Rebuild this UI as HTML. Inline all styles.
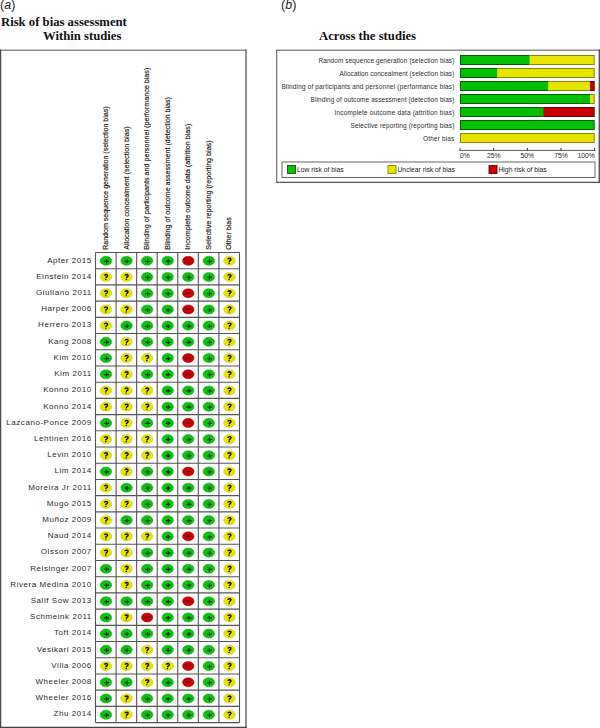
<!DOCTYPE html>
<html><head><meta charset="utf-8"><style>
html,body{margin:0;padding:0;background:#fff;width:600px;height:728px;overflow:hidden;position:relative}
.t{position:absolute;white-space:nowrap}
.ser{font-family:"Liberation Serif",serif;font-weight:bold;font-size:13.2px;color:#111;transform:scale(0.962,1);transform-origin:0 0}
.pl{font-family:"Liberation Sans",sans-serif;font-size:12.5px;color:#222}
.lab{position:absolute;right:508.2px;font-family:"Liberation Sans",sans-serif;font-size:8px;letter-spacing:0.55px;line-height:10px;color:#2a2a2a;white-space:nowrap}
svg{position:absolute;left:0;top:0}
</style></head><body>
<div class="t pl" style="left:0;top:-2px">(<i>a</i>)</div>
<div class="t ser" style="left:1px;top:13.9px">Risk of bias assessment</div>
<div class="t ser" style="left:42.7px;top:28.3px">Within studies</div>
<div class="t pl" style="left:281px;top:-2px">(<i>b</i>)</div>
<div class="t ser" style="left:319px;top:27.8px">Across the studies</div>
<svg width="600" height="728" viewBox="0 0 600 728">
<line x1="0" y1="50.2" x2="246.5" y2="50.2" stroke="#8c8c8c" stroke-width="1.6"/>
<line x1="0.6" y1="49.5" x2="0.6" y2="728" stroke="#4a4a4a" stroke-width="1.3"/>
<line x1="246" y1="49.5" x2="246" y2="728" stroke="#6a6a6a" stroke-width="1.5"/>
<line x1="0" y1="727.4" x2="246.7" y2="727.4" stroke="#444" stroke-width="1.3"/>
<line x1="95.50" y1="252.50" x2="95.50" y2="722.59" stroke="#555" stroke-width="1.1"/>
<line x1="116.07" y1="252.50" x2="116.07" y2="722.59" stroke="#555" stroke-width="1.1"/>
<line x1="136.64" y1="252.50" x2="136.64" y2="722.59" stroke="#555" stroke-width="1.1"/>
<line x1="157.21" y1="252.50" x2="157.21" y2="722.59" stroke="#555" stroke-width="1.1"/>
<line x1="177.78" y1="252.50" x2="177.78" y2="722.59" stroke="#555" stroke-width="1.1"/>
<line x1="198.35" y1="252.50" x2="198.35" y2="722.59" stroke="#555" stroke-width="1.1"/>
<line x1="218.92" y1="252.50" x2="218.92" y2="722.59" stroke="#555" stroke-width="1.1"/>
<line x1="239.49" y1="252.50" x2="239.49" y2="722.59" stroke="#555" stroke-width="1.1"/>
<line x1="95.50" y1="252.50" x2="239.49" y2="252.50" stroke="#555" stroke-width="1.1"/>
<line x1="95.50" y1="268.71" x2="239.49" y2="268.71" stroke="#555" stroke-width="1.1"/>
<line x1="95.50" y1="284.92" x2="239.49" y2="284.92" stroke="#555" stroke-width="1.1"/>
<line x1="95.50" y1="301.13" x2="239.49" y2="301.13" stroke="#555" stroke-width="1.1"/>
<line x1="95.50" y1="317.34" x2="239.49" y2="317.34" stroke="#555" stroke-width="1.1"/>
<line x1="95.50" y1="333.55" x2="239.49" y2="333.55" stroke="#555" stroke-width="1.1"/>
<line x1="95.50" y1="349.76" x2="239.49" y2="349.76" stroke="#555" stroke-width="1.1"/>
<line x1="95.50" y1="365.97" x2="239.49" y2="365.97" stroke="#555" stroke-width="1.1"/>
<line x1="95.50" y1="382.18" x2="239.49" y2="382.18" stroke="#555" stroke-width="1.1"/>
<line x1="95.50" y1="398.39" x2="239.49" y2="398.39" stroke="#555" stroke-width="1.1"/>
<line x1="95.50" y1="414.60" x2="239.49" y2="414.60" stroke="#555" stroke-width="1.1"/>
<line x1="95.50" y1="430.81" x2="239.49" y2="430.81" stroke="#555" stroke-width="1.1"/>
<line x1="95.50" y1="447.02" x2="239.49" y2="447.02" stroke="#555" stroke-width="1.1"/>
<line x1="95.50" y1="463.23" x2="239.49" y2="463.23" stroke="#555" stroke-width="1.1"/>
<line x1="95.50" y1="479.44" x2="239.49" y2="479.44" stroke="#555" stroke-width="1.1"/>
<line x1="95.50" y1="495.65" x2="239.49" y2="495.65" stroke="#555" stroke-width="1.1"/>
<line x1="95.50" y1="511.86" x2="239.49" y2="511.86" stroke="#555" stroke-width="1.1"/>
<line x1="95.50" y1="528.07" x2="239.49" y2="528.07" stroke="#555" stroke-width="1.1"/>
<line x1="95.50" y1="544.28" x2="239.49" y2="544.28" stroke="#555" stroke-width="1.1"/>
<line x1="95.50" y1="560.49" x2="239.49" y2="560.49" stroke="#555" stroke-width="1.1"/>
<line x1="95.50" y1="576.70" x2="239.49" y2="576.70" stroke="#555" stroke-width="1.1"/>
<line x1="95.50" y1="592.91" x2="239.49" y2="592.91" stroke="#555" stroke-width="1.1"/>
<line x1="95.50" y1="609.12" x2="239.49" y2="609.12" stroke="#555" stroke-width="1.1"/>
<line x1="95.50" y1="625.33" x2="239.49" y2="625.33" stroke="#555" stroke-width="1.1"/>
<line x1="95.50" y1="641.54" x2="239.49" y2="641.54" stroke="#555" stroke-width="1.1"/>
<line x1="95.50" y1="657.75" x2="239.49" y2="657.75" stroke="#555" stroke-width="1.1"/>
<line x1="95.50" y1="673.96" x2="239.49" y2="673.96" stroke="#555" stroke-width="1.1"/>
<line x1="95.50" y1="690.17" x2="239.49" y2="690.17" stroke="#555" stroke-width="1.1"/>
<line x1="95.50" y1="706.38" x2="239.49" y2="706.38" stroke="#555" stroke-width="1.1"/>
<line x1="95.50" y1="722.59" x2="239.49" y2="722.59" stroke="#555" stroke-width="1.1"/>
<ellipse cx="105.98" cy="260.81" rx="5.75" ry="4.55" fill="#08c408" stroke="#08a808" stroke-width="0.5"/>
<path d="M104.19 261.25h4.8M106.58 259.31v3.9" stroke="#021" stroke-width="1.25"/>
<ellipse cx="126.55" cy="260.81" rx="5.75" ry="4.55" fill="#08c408" stroke="#08a808" stroke-width="0.5"/>
<path d="M124.75 261.25h4.8M127.15 259.31v3.9" stroke="#021" stroke-width="1.25"/>
<ellipse cx="147.12" cy="260.81" rx="5.75" ry="4.55" fill="#08c408" stroke="#08a808" stroke-width="0.5"/>
<path d="M145.32 261.25h4.8M147.72 259.31v3.9" stroke="#021" stroke-width="1.25"/>
<ellipse cx="167.69" cy="260.81" rx="5.75" ry="4.55" fill="#08c408" stroke="#08a808" stroke-width="0.5"/>
<path d="M165.89 261.25h4.8M168.29 259.31v3.9" stroke="#021" stroke-width="1.25"/>
<ellipse cx="188.26" cy="260.81" rx="5.75" ry="4.55" fill="#cc0000" stroke="#b00000" stroke-width="0.5"/>
<path d="M186.16 260.61h4" stroke="#400" stroke-width="1.3"/>
<ellipse cx="208.83" cy="260.81" rx="5.75" ry="4.55" fill="#08c408" stroke="#08a808" stroke-width="0.5"/>
<path d="M207.03 261.25h4.8M209.43 259.31v3.9" stroke="#021" stroke-width="1.25"/>
<ellipse cx="229.41" cy="260.81" rx="5.75" ry="4.55" fill="#e6e500" stroke="#c8c600" stroke-width="0.5"/>
<path d="M227.81 259.41Q228.10 258.31 229.50 258.31Q231.21 258.41 230.91 259.70Q230.60 260.50 229.50 261.20L229.21 262.11M229.10 262.81v1.1" fill="none" stroke="#111" stroke-width="1.4"/>
<ellipse cx="105.98" cy="277.01" rx="5.75" ry="4.55" fill="#e6e500" stroke="#c8c600" stroke-width="0.5"/>
<path d="M104.39 275.62Q104.69 274.51 106.08 274.51Q107.78 274.62 107.48 275.91Q107.19 276.71 106.08 277.41L105.78 278.31M105.69 279.01v1.1" fill="none" stroke="#111" stroke-width="1.4"/>
<ellipse cx="126.55" cy="277.01" rx="5.75" ry="4.55" fill="#e6e500" stroke="#c8c600" stroke-width="0.5"/>
<path d="M124.95 275.62Q125.25 274.51 126.65 274.51Q128.35 274.62 128.06 275.91Q127.75 276.71 126.65 277.41L126.35 278.31M126.25 279.01v1.1" fill="none" stroke="#111" stroke-width="1.4"/>
<ellipse cx="147.12" cy="277.01" rx="5.75" ry="4.55" fill="#08c408" stroke="#08a808" stroke-width="0.5"/>
<path d="M145.32 277.46h4.8M147.72 275.51v3.9" stroke="#021" stroke-width="1.25"/>
<ellipse cx="167.69" cy="277.01" rx="5.75" ry="4.55" fill="#08c408" stroke="#08a808" stroke-width="0.5"/>
<path d="M165.89 277.46h4.8M168.29 275.51v3.9" stroke="#021" stroke-width="1.25"/>
<ellipse cx="188.26" cy="277.01" rx="5.75" ry="4.55" fill="#08c408" stroke="#08a808" stroke-width="0.5"/>
<path d="M186.46 277.46h4.8M188.86 275.51v3.9" stroke="#021" stroke-width="1.25"/>
<ellipse cx="208.83" cy="277.01" rx="5.75" ry="4.55" fill="#08c408" stroke="#08a808" stroke-width="0.5"/>
<path d="M207.03 277.46h4.8M209.43 275.51v3.9" stroke="#021" stroke-width="1.25"/>
<ellipse cx="229.41" cy="277.01" rx="5.75" ry="4.55" fill="#e6e500" stroke="#c8c600" stroke-width="0.5"/>
<path d="M227.81 275.62Q228.10 274.51 229.50 274.51Q231.21 274.62 230.91 275.91Q230.60 276.71 229.50 277.41L229.21 278.31M229.10 279.01v1.1" fill="none" stroke="#111" stroke-width="1.4"/>
<ellipse cx="105.98" cy="293.23" rx="5.75" ry="4.55" fill="#e6e500" stroke="#c8c600" stroke-width="0.5"/>
<path d="M104.39 291.83Q104.69 290.73 106.08 290.73Q107.78 290.83 107.48 292.12Q107.19 292.93 106.08 293.62L105.78 294.53M105.69 295.23v1.1" fill="none" stroke="#111" stroke-width="1.4"/>
<ellipse cx="126.55" cy="293.23" rx="5.75" ry="4.55" fill="#e6e500" stroke="#c8c600" stroke-width="0.5"/>
<path d="M124.95 291.83Q125.25 290.73 126.65 290.73Q128.35 290.83 128.06 292.12Q127.75 292.93 126.65 293.62L126.35 294.53M126.25 295.23v1.1" fill="none" stroke="#111" stroke-width="1.4"/>
<ellipse cx="147.12" cy="293.23" rx="5.75" ry="4.55" fill="#08c408" stroke="#08a808" stroke-width="0.5"/>
<path d="M145.32 293.68h4.8M147.72 291.73v3.9" stroke="#021" stroke-width="1.25"/>
<ellipse cx="167.69" cy="293.23" rx="5.75" ry="4.55" fill="#08c408" stroke="#08a808" stroke-width="0.5"/>
<path d="M165.89 293.68h4.8M168.29 291.73v3.9" stroke="#021" stroke-width="1.25"/>
<ellipse cx="188.26" cy="293.23" rx="5.75" ry="4.55" fill="#cc0000" stroke="#b00000" stroke-width="0.5"/>
<path d="M186.16 293.03h4" stroke="#400" stroke-width="1.3"/>
<ellipse cx="208.83" cy="293.23" rx="5.75" ry="4.55" fill="#08c408" stroke="#08a808" stroke-width="0.5"/>
<path d="M207.03 293.68h4.8M209.43 291.73v3.9" stroke="#021" stroke-width="1.25"/>
<ellipse cx="229.41" cy="293.23" rx="5.75" ry="4.55" fill="#e6e500" stroke="#c8c600" stroke-width="0.5"/>
<path d="M227.81 291.83Q228.10 290.73 229.50 290.73Q231.21 290.83 230.91 292.12Q230.60 292.93 229.50 293.62L229.21 294.53M229.10 295.23v1.1" fill="none" stroke="#111" stroke-width="1.4"/>
<ellipse cx="105.98" cy="309.44" rx="5.75" ry="4.55" fill="#e6e500" stroke="#c8c600" stroke-width="0.5"/>
<path d="M104.39 308.04Q104.69 306.94 106.08 306.94Q107.78 307.04 107.48 308.33Q107.19 309.13 106.08 309.83L105.78 310.74M105.69 311.44v1.1" fill="none" stroke="#111" stroke-width="1.4"/>
<ellipse cx="126.55" cy="309.44" rx="5.75" ry="4.55" fill="#e6e500" stroke="#c8c600" stroke-width="0.5"/>
<path d="M124.95 308.04Q125.25 306.94 126.65 306.94Q128.35 307.04 128.06 308.33Q127.75 309.13 126.65 309.83L126.35 310.74M126.25 311.44v1.1" fill="none" stroke="#111" stroke-width="1.4"/>
<ellipse cx="147.12" cy="309.44" rx="5.75" ry="4.55" fill="#08c408" stroke="#08a808" stroke-width="0.5"/>
<path d="M145.32 309.88h4.8M147.72 307.94v3.9" stroke="#021" stroke-width="1.25"/>
<ellipse cx="167.69" cy="309.44" rx="5.75" ry="4.55" fill="#08c408" stroke="#08a808" stroke-width="0.5"/>
<path d="M165.89 309.88h4.8M168.29 307.94v3.9" stroke="#021" stroke-width="1.25"/>
<ellipse cx="188.26" cy="309.44" rx="5.75" ry="4.55" fill="#cc0000" stroke="#b00000" stroke-width="0.5"/>
<path d="M186.16 309.24h4" stroke="#400" stroke-width="1.3"/>
<ellipse cx="208.83" cy="309.44" rx="5.75" ry="4.55" fill="#08c408" stroke="#08a808" stroke-width="0.5"/>
<path d="M207.03 309.88h4.8M209.43 307.94v3.9" stroke="#021" stroke-width="1.25"/>
<ellipse cx="229.41" cy="309.44" rx="5.75" ry="4.55" fill="#e6e500" stroke="#c8c600" stroke-width="0.5"/>
<path d="M227.81 308.04Q228.10 306.94 229.50 306.94Q231.21 307.04 230.91 308.33Q230.60 309.13 229.50 309.83L229.21 310.74M229.10 311.44v1.1" fill="none" stroke="#111" stroke-width="1.4"/>
<ellipse cx="105.98" cy="325.65" rx="5.75" ry="4.55" fill="#e6e500" stroke="#c8c600" stroke-width="0.5"/>
<path d="M104.39 324.25Q104.69 323.15 106.08 323.15Q107.78 323.25 107.48 324.55Q107.19 325.35 106.08 326.05L105.78 326.95M105.69 327.65v1.1" fill="none" stroke="#111" stroke-width="1.4"/>
<ellipse cx="126.55" cy="325.65" rx="5.75" ry="4.55" fill="#08c408" stroke="#08a808" stroke-width="0.5"/>
<path d="M124.75 326.10h4.8M127.15 324.15v3.9" stroke="#021" stroke-width="1.25"/>
<ellipse cx="147.12" cy="325.65" rx="5.75" ry="4.55" fill="#08c408" stroke="#08a808" stroke-width="0.5"/>
<path d="M145.32 326.10h4.8M147.72 324.15v3.9" stroke="#021" stroke-width="1.25"/>
<ellipse cx="167.69" cy="325.65" rx="5.75" ry="4.55" fill="#08c408" stroke="#08a808" stroke-width="0.5"/>
<path d="M165.89 326.10h4.8M168.29 324.15v3.9" stroke="#021" stroke-width="1.25"/>
<ellipse cx="188.26" cy="325.65" rx="5.75" ry="4.55" fill="#08c408" stroke="#08a808" stroke-width="0.5"/>
<path d="M186.46 326.10h4.8M188.86 324.15v3.9" stroke="#021" stroke-width="1.25"/>
<ellipse cx="208.83" cy="325.65" rx="5.75" ry="4.55" fill="#08c408" stroke="#08a808" stroke-width="0.5"/>
<path d="M207.03 326.10h4.8M209.43 324.15v3.9" stroke="#021" stroke-width="1.25"/>
<ellipse cx="229.41" cy="325.65" rx="5.75" ry="4.55" fill="#e6e500" stroke="#c8c600" stroke-width="0.5"/>
<path d="M227.81 324.25Q228.10 323.15 229.50 323.15Q231.21 323.25 230.91 324.55Q230.60 325.35 229.50 326.05L229.21 326.95M229.10 327.65v1.1" fill="none" stroke="#111" stroke-width="1.4"/>
<ellipse cx="105.98" cy="341.86" rx="5.75" ry="4.55" fill="#08c408" stroke="#08a808" stroke-width="0.5"/>
<path d="M104.19 342.31h4.8M106.58 340.36v3.9" stroke="#021" stroke-width="1.25"/>
<ellipse cx="126.55" cy="341.86" rx="5.75" ry="4.55" fill="#e6e500" stroke="#c8c600" stroke-width="0.5"/>
<path d="M124.95 340.46Q125.25 339.36 126.65 339.36Q128.35 339.46 128.06 340.75Q127.75 341.56 126.65 342.25L126.35 343.16M126.25 343.86v1.1" fill="none" stroke="#111" stroke-width="1.4"/>
<ellipse cx="147.12" cy="341.86" rx="5.75" ry="4.55" fill="#08c408" stroke="#08a808" stroke-width="0.5"/>
<path d="M145.32 342.31h4.8M147.72 340.36v3.9" stroke="#021" stroke-width="1.25"/>
<ellipse cx="167.69" cy="341.86" rx="5.75" ry="4.55" fill="#08c408" stroke="#08a808" stroke-width="0.5"/>
<path d="M165.89 342.31h4.8M168.29 340.36v3.9" stroke="#021" stroke-width="1.25"/>
<ellipse cx="188.26" cy="341.86" rx="5.75" ry="4.55" fill="#08c408" stroke="#08a808" stroke-width="0.5"/>
<path d="M186.46 342.31h4.8M188.86 340.36v3.9" stroke="#021" stroke-width="1.25"/>
<ellipse cx="208.83" cy="341.86" rx="5.75" ry="4.55" fill="#08c408" stroke="#08a808" stroke-width="0.5"/>
<path d="M207.03 342.31h4.8M209.43 340.36v3.9" stroke="#021" stroke-width="1.25"/>
<ellipse cx="229.41" cy="341.86" rx="5.75" ry="4.55" fill="#e6e500" stroke="#c8c600" stroke-width="0.5"/>
<path d="M227.81 340.46Q228.10 339.36 229.50 339.36Q231.21 339.46 230.91 340.75Q230.60 341.56 229.50 342.25L229.21 343.16M229.10 343.86v1.1" fill="none" stroke="#111" stroke-width="1.4"/>
<ellipse cx="105.98" cy="358.06" rx="5.75" ry="4.55" fill="#08c408" stroke="#08a808" stroke-width="0.5"/>
<path d="M104.19 358.51h4.8M106.58 356.56v3.9" stroke="#021" stroke-width="1.25"/>
<ellipse cx="126.55" cy="358.06" rx="5.75" ry="4.55" fill="#e6e500" stroke="#c8c600" stroke-width="0.5"/>
<path d="M124.95 356.67Q125.25 355.56 126.65 355.56Q128.35 355.67 128.06 356.96Q127.75 357.76 126.65 358.46L126.35 359.37M126.25 360.06v1.1" fill="none" stroke="#111" stroke-width="1.4"/>
<ellipse cx="147.12" cy="358.06" rx="5.75" ry="4.55" fill="#e6e500" stroke="#c8c600" stroke-width="0.5"/>
<path d="M145.52 356.67Q145.82 355.56 147.22 355.56Q148.92 355.67 148.62 356.96Q148.32 357.76 147.22 358.46L146.92 359.37M146.82 360.06v1.1" fill="none" stroke="#111" stroke-width="1.4"/>
<ellipse cx="167.69" cy="358.06" rx="5.75" ry="4.55" fill="#08c408" stroke="#08a808" stroke-width="0.5"/>
<path d="M165.89 358.51h4.8M168.29 356.56v3.9" stroke="#021" stroke-width="1.25"/>
<ellipse cx="188.26" cy="358.06" rx="5.75" ry="4.55" fill="#cc0000" stroke="#b00000" stroke-width="0.5"/>
<path d="M186.16 357.87h4" stroke="#400" stroke-width="1.3"/>
<ellipse cx="208.83" cy="358.06" rx="5.75" ry="4.55" fill="#08c408" stroke="#08a808" stroke-width="0.5"/>
<path d="M207.03 358.51h4.8M209.43 356.56v3.9" stroke="#021" stroke-width="1.25"/>
<ellipse cx="229.41" cy="358.06" rx="5.75" ry="4.55" fill="#e6e500" stroke="#c8c600" stroke-width="0.5"/>
<path d="M227.81 356.67Q228.10 355.56 229.50 355.56Q231.21 355.67 230.91 356.96Q230.60 357.76 229.50 358.46L229.21 359.37M229.10 360.06v1.1" fill="none" stroke="#111" stroke-width="1.4"/>
<ellipse cx="105.98" cy="374.28" rx="5.75" ry="4.55" fill="#08c408" stroke="#08a808" stroke-width="0.5"/>
<path d="M104.19 374.73h4.8M106.58 372.78v3.9" stroke="#021" stroke-width="1.25"/>
<ellipse cx="126.55" cy="374.28" rx="5.75" ry="4.55" fill="#e6e500" stroke="#c8c600" stroke-width="0.5"/>
<path d="M124.95 372.88Q125.25 371.78 126.65 371.78Q128.35 371.88 128.06 373.18Q127.75 373.98 126.65 374.68L126.35 375.58M126.25 376.28v1.1" fill="none" stroke="#111" stroke-width="1.4"/>
<ellipse cx="147.12" cy="374.28" rx="5.75" ry="4.55" fill="#08c408" stroke="#08a808" stroke-width="0.5"/>
<path d="M145.32 374.73h4.8M147.72 372.78v3.9" stroke="#021" stroke-width="1.25"/>
<ellipse cx="167.69" cy="374.28" rx="5.75" ry="4.55" fill="#08c408" stroke="#08a808" stroke-width="0.5"/>
<path d="M165.89 374.73h4.8M168.29 372.78v3.9" stroke="#021" stroke-width="1.25"/>
<ellipse cx="188.26" cy="374.28" rx="5.75" ry="4.55" fill="#cc0000" stroke="#b00000" stroke-width="0.5"/>
<path d="M186.16 374.08h4" stroke="#400" stroke-width="1.3"/>
<ellipse cx="208.83" cy="374.28" rx="5.75" ry="4.55" fill="#08c408" stroke="#08a808" stroke-width="0.5"/>
<path d="M207.03 374.73h4.8M209.43 372.78v3.9" stroke="#021" stroke-width="1.25"/>
<ellipse cx="229.41" cy="374.28" rx="5.75" ry="4.55" fill="#e6e500" stroke="#c8c600" stroke-width="0.5"/>
<path d="M227.81 372.88Q228.10 371.78 229.50 371.78Q231.21 371.88 230.91 373.18Q230.60 373.98 229.50 374.68L229.21 375.58M229.10 376.28v1.1" fill="none" stroke="#111" stroke-width="1.4"/>
<ellipse cx="105.98" cy="390.49" rx="5.75" ry="4.55" fill="#e6e500" stroke="#c8c600" stroke-width="0.5"/>
<path d="M104.39 389.09Q104.69 387.99 106.08 387.99Q107.78 388.09 107.48 389.38Q107.19 390.19 106.08 390.88L105.78 391.79M105.69 392.49v1.1" fill="none" stroke="#111" stroke-width="1.4"/>
<ellipse cx="126.55" cy="390.49" rx="5.75" ry="4.55" fill="#e6e500" stroke="#c8c600" stroke-width="0.5"/>
<path d="M124.95 389.09Q125.25 387.99 126.65 387.99Q128.35 388.09 128.06 389.38Q127.75 390.19 126.65 390.88L126.35 391.79M126.25 392.49v1.1" fill="none" stroke="#111" stroke-width="1.4"/>
<ellipse cx="147.12" cy="390.49" rx="5.75" ry="4.55" fill="#e6e500" stroke="#c8c600" stroke-width="0.5"/>
<path d="M145.52 389.09Q145.82 387.99 147.22 387.99Q148.92 388.09 148.62 389.38Q148.32 390.19 147.22 390.88L146.92 391.79M146.82 392.49v1.1" fill="none" stroke="#111" stroke-width="1.4"/>
<ellipse cx="167.69" cy="390.49" rx="5.75" ry="4.55" fill="#08c408" stroke="#08a808" stroke-width="0.5"/>
<path d="M165.89 390.94h4.8M168.29 388.99v3.9" stroke="#021" stroke-width="1.25"/>
<ellipse cx="188.26" cy="390.49" rx="5.75" ry="4.55" fill="#08c408" stroke="#08a808" stroke-width="0.5"/>
<path d="M186.46 390.94h4.8M188.86 388.99v3.9" stroke="#021" stroke-width="1.25"/>
<ellipse cx="208.83" cy="390.49" rx="5.75" ry="4.55" fill="#08c408" stroke="#08a808" stroke-width="0.5"/>
<path d="M207.03 390.94h4.8M209.43 388.99v3.9" stroke="#021" stroke-width="1.25"/>
<ellipse cx="229.41" cy="390.49" rx="5.75" ry="4.55" fill="#e6e500" stroke="#c8c600" stroke-width="0.5"/>
<path d="M227.81 389.09Q228.10 387.99 229.50 387.99Q231.21 388.09 230.91 389.38Q230.60 390.19 229.50 390.88L229.21 391.79M229.10 392.49v1.1" fill="none" stroke="#111" stroke-width="1.4"/>
<ellipse cx="105.98" cy="406.69" rx="5.75" ry="4.55" fill="#e6e500" stroke="#c8c600" stroke-width="0.5"/>
<path d="M104.39 405.30Q104.69 404.19 106.08 404.19Q107.78 404.30 107.48 405.59Q107.19 406.39 106.08 407.09L105.78 408.00M105.69 408.69v1.1" fill="none" stroke="#111" stroke-width="1.4"/>
<ellipse cx="126.55" cy="406.69" rx="5.75" ry="4.55" fill="#e6e500" stroke="#c8c600" stroke-width="0.5"/>
<path d="M124.95 405.30Q125.25 404.19 126.65 404.19Q128.35 404.30 128.06 405.59Q127.75 406.39 126.65 407.09L126.35 408.00M126.25 408.69v1.1" fill="none" stroke="#111" stroke-width="1.4"/>
<ellipse cx="147.12" cy="406.69" rx="5.75" ry="4.55" fill="#e6e500" stroke="#c8c600" stroke-width="0.5"/>
<path d="M145.52 405.30Q145.82 404.19 147.22 404.19Q148.92 404.30 148.62 405.59Q148.32 406.39 147.22 407.09L146.92 408.00M146.82 408.69v1.1" fill="none" stroke="#111" stroke-width="1.4"/>
<ellipse cx="167.69" cy="406.69" rx="5.75" ry="4.55" fill="#08c408" stroke="#08a808" stroke-width="0.5"/>
<path d="M165.89 407.14h4.8M168.29 405.19v3.9" stroke="#021" stroke-width="1.25"/>
<ellipse cx="188.26" cy="406.69" rx="5.75" ry="4.55" fill="#08c408" stroke="#08a808" stroke-width="0.5"/>
<path d="M186.46 407.14h4.8M188.86 405.19v3.9" stroke="#021" stroke-width="1.25"/>
<ellipse cx="208.83" cy="406.69" rx="5.75" ry="4.55" fill="#08c408" stroke="#08a808" stroke-width="0.5"/>
<path d="M207.03 407.14h4.8M209.43 405.19v3.9" stroke="#021" stroke-width="1.25"/>
<ellipse cx="229.41" cy="406.69" rx="5.75" ry="4.55" fill="#e6e500" stroke="#c8c600" stroke-width="0.5"/>
<path d="M227.81 405.30Q228.10 404.19 229.50 404.19Q231.21 404.30 230.91 405.59Q230.60 406.39 229.50 407.09L229.21 408.00M229.10 408.69v1.1" fill="none" stroke="#111" stroke-width="1.4"/>
<ellipse cx="105.98" cy="422.91" rx="5.75" ry="4.55" fill="#08c408" stroke="#08a808" stroke-width="0.5"/>
<path d="M104.19 423.36h4.8M106.58 421.41v3.9" stroke="#021" stroke-width="1.25"/>
<ellipse cx="126.55" cy="422.91" rx="5.75" ry="4.55" fill="#e6e500" stroke="#c8c600" stroke-width="0.5"/>
<path d="M124.95 421.51Q125.25 420.41 126.65 420.41Q128.35 420.51 128.06 421.81Q127.75 422.61 126.65 423.31L126.35 424.21M126.25 424.91v1.1" fill="none" stroke="#111" stroke-width="1.4"/>
<ellipse cx="147.12" cy="422.91" rx="5.75" ry="4.55" fill="#08c408" stroke="#08a808" stroke-width="0.5"/>
<path d="M145.32 423.36h4.8M147.72 421.41v3.9" stroke="#021" stroke-width="1.25"/>
<ellipse cx="167.69" cy="422.91" rx="5.75" ry="4.55" fill="#08c408" stroke="#08a808" stroke-width="0.5"/>
<path d="M165.89 423.36h4.8M168.29 421.41v3.9" stroke="#021" stroke-width="1.25"/>
<ellipse cx="188.26" cy="422.91" rx="5.75" ry="4.55" fill="#cc0000" stroke="#b00000" stroke-width="0.5"/>
<path d="M186.16 422.71h4" stroke="#400" stroke-width="1.3"/>
<ellipse cx="208.83" cy="422.91" rx="5.75" ry="4.55" fill="#08c408" stroke="#08a808" stroke-width="0.5"/>
<path d="M207.03 423.36h4.8M209.43 421.41v3.9" stroke="#021" stroke-width="1.25"/>
<ellipse cx="229.41" cy="422.91" rx="5.75" ry="4.55" fill="#e6e500" stroke="#c8c600" stroke-width="0.5"/>
<path d="M227.81 421.51Q228.10 420.41 229.50 420.41Q231.21 420.51 230.91 421.81Q230.60 422.61 229.50 423.31L229.21 424.21M229.10 424.91v1.1" fill="none" stroke="#111" stroke-width="1.4"/>
<ellipse cx="105.98" cy="439.12" rx="5.75" ry="4.55" fill="#e6e500" stroke="#c8c600" stroke-width="0.5"/>
<path d="M104.39 437.72Q104.69 436.62 106.08 436.62Q107.78 436.72 107.48 438.01Q107.19 438.81 106.08 439.51L105.78 440.42M105.69 441.12v1.1" fill="none" stroke="#111" stroke-width="1.4"/>
<ellipse cx="126.55" cy="439.12" rx="5.75" ry="4.55" fill="#e6e500" stroke="#c8c600" stroke-width="0.5"/>
<path d="M124.95 437.72Q125.25 436.62 126.65 436.62Q128.35 436.72 128.06 438.01Q127.75 438.81 126.65 439.51L126.35 440.42M126.25 441.12v1.1" fill="none" stroke="#111" stroke-width="1.4"/>
<ellipse cx="147.12" cy="439.12" rx="5.75" ry="4.55" fill="#e6e500" stroke="#c8c600" stroke-width="0.5"/>
<path d="M145.52 437.72Q145.82 436.62 147.22 436.62Q148.92 436.72 148.62 438.01Q148.32 438.81 147.22 439.51L146.92 440.42M146.82 441.12v1.1" fill="none" stroke="#111" stroke-width="1.4"/>
<ellipse cx="167.69" cy="439.12" rx="5.75" ry="4.55" fill="#08c408" stroke="#08a808" stroke-width="0.5"/>
<path d="M165.89 439.56h4.8M168.29 437.62v3.9" stroke="#021" stroke-width="1.25"/>
<ellipse cx="188.26" cy="439.12" rx="5.75" ry="4.55" fill="#08c408" stroke="#08a808" stroke-width="0.5"/>
<path d="M186.46 439.56h4.8M188.86 437.62v3.9" stroke="#021" stroke-width="1.25"/>
<ellipse cx="208.83" cy="439.12" rx="5.75" ry="4.55" fill="#08c408" stroke="#08a808" stroke-width="0.5"/>
<path d="M207.03 439.56h4.8M209.43 437.62v3.9" stroke="#021" stroke-width="1.25"/>
<ellipse cx="229.41" cy="439.12" rx="5.75" ry="4.55" fill="#e6e500" stroke="#c8c600" stroke-width="0.5"/>
<path d="M227.81 437.72Q228.10 436.62 229.50 436.62Q231.21 436.72 230.91 438.01Q230.60 438.81 229.50 439.51L229.21 440.42M229.10 441.12v1.1" fill="none" stroke="#111" stroke-width="1.4"/>
<ellipse cx="105.98" cy="455.32" rx="5.75" ry="4.55" fill="#e6e500" stroke="#c8c600" stroke-width="0.5"/>
<path d="M104.39 453.93Q104.69 452.82 106.08 452.82Q107.78 452.93 107.48 454.22Q107.19 455.02 106.08 455.72L105.78 456.62M105.69 457.32v1.1" fill="none" stroke="#111" stroke-width="1.4"/>
<ellipse cx="126.55" cy="455.32" rx="5.75" ry="4.55" fill="#e6e500" stroke="#c8c600" stroke-width="0.5"/>
<path d="M124.95 453.93Q125.25 452.82 126.65 452.82Q128.35 452.93 128.06 454.22Q127.75 455.02 126.65 455.72L126.35 456.62M126.25 457.32v1.1" fill="none" stroke="#111" stroke-width="1.4"/>
<ellipse cx="147.12" cy="455.32" rx="5.75" ry="4.55" fill="#e6e500" stroke="#c8c600" stroke-width="0.5"/>
<path d="M145.52 453.93Q145.82 452.82 147.22 452.82Q148.92 452.93 148.62 454.22Q148.32 455.02 147.22 455.72L146.92 456.62M146.82 457.32v1.1" fill="none" stroke="#111" stroke-width="1.4"/>
<ellipse cx="167.69" cy="455.32" rx="5.75" ry="4.55" fill="#08c408" stroke="#08a808" stroke-width="0.5"/>
<path d="M165.89 455.77h4.8M168.29 453.82v3.9" stroke="#021" stroke-width="1.25"/>
<ellipse cx="188.26" cy="455.32" rx="5.75" ry="4.55" fill="#08c408" stroke="#08a808" stroke-width="0.5"/>
<path d="M186.46 455.77h4.8M188.86 453.82v3.9" stroke="#021" stroke-width="1.25"/>
<ellipse cx="208.83" cy="455.32" rx="5.75" ry="4.55" fill="#08c408" stroke="#08a808" stroke-width="0.5"/>
<path d="M207.03 455.77h4.8M209.43 453.82v3.9" stroke="#021" stroke-width="1.25"/>
<ellipse cx="229.41" cy="455.32" rx="5.75" ry="4.55" fill="#e6e500" stroke="#c8c600" stroke-width="0.5"/>
<path d="M227.81 453.93Q228.10 452.82 229.50 452.82Q231.21 452.93 230.91 454.22Q230.60 455.02 229.50 455.72L229.21 456.62M229.10 457.32v1.1" fill="none" stroke="#111" stroke-width="1.4"/>
<ellipse cx="105.98" cy="471.54" rx="5.75" ry="4.55" fill="#08c408" stroke="#08a808" stroke-width="0.5"/>
<path d="M104.19 471.99h4.8M106.58 470.04v3.9" stroke="#021" stroke-width="1.25"/>
<ellipse cx="126.55" cy="471.54" rx="5.75" ry="4.55" fill="#e6e500" stroke="#c8c600" stroke-width="0.5"/>
<path d="M124.95 470.14Q125.25 469.04 126.65 469.04Q128.35 469.14 128.06 470.44Q127.75 471.24 126.65 471.94L126.35 472.84M126.25 473.54v1.1" fill="none" stroke="#111" stroke-width="1.4"/>
<ellipse cx="147.12" cy="471.54" rx="5.75" ry="4.55" fill="#08c408" stroke="#08a808" stroke-width="0.5"/>
<path d="M145.32 471.99h4.8M147.72 470.04v3.9" stroke="#021" stroke-width="1.25"/>
<ellipse cx="167.69" cy="471.54" rx="5.75" ry="4.55" fill="#08c408" stroke="#08a808" stroke-width="0.5"/>
<path d="M165.89 471.99h4.8M168.29 470.04v3.9" stroke="#021" stroke-width="1.25"/>
<ellipse cx="188.26" cy="471.54" rx="5.75" ry="4.55" fill="#cc0000" stroke="#b00000" stroke-width="0.5"/>
<path d="M186.16 471.34h4" stroke="#400" stroke-width="1.3"/>
<ellipse cx="208.83" cy="471.54" rx="5.75" ry="4.55" fill="#08c408" stroke="#08a808" stroke-width="0.5"/>
<path d="M207.03 471.99h4.8M209.43 470.04v3.9" stroke="#021" stroke-width="1.25"/>
<ellipse cx="229.41" cy="471.54" rx="5.75" ry="4.55" fill="#e6e500" stroke="#c8c600" stroke-width="0.5"/>
<path d="M227.81 470.14Q228.10 469.04 229.50 469.04Q231.21 469.14 230.91 470.44Q230.60 471.24 229.50 471.94L229.21 472.84M229.10 473.54v1.1" fill="none" stroke="#111" stroke-width="1.4"/>
<ellipse cx="105.98" cy="487.75" rx="5.75" ry="4.55" fill="#e6e500" stroke="#c8c600" stroke-width="0.5"/>
<path d="M104.39 486.35Q104.69 485.25 106.08 485.25Q107.78 485.35 107.48 486.64Q107.19 487.44 106.08 488.14L105.78 489.05M105.69 489.75v1.1" fill="none" stroke="#111" stroke-width="1.4"/>
<ellipse cx="126.55" cy="487.75" rx="5.75" ry="4.55" fill="#08c408" stroke="#08a808" stroke-width="0.5"/>
<path d="M124.75 488.19h4.8M127.15 486.25v3.9" stroke="#021" stroke-width="1.25"/>
<ellipse cx="147.12" cy="487.75" rx="5.75" ry="4.55" fill="#08c408" stroke="#08a808" stroke-width="0.5"/>
<path d="M145.32 488.19h4.8M147.72 486.25v3.9" stroke="#021" stroke-width="1.25"/>
<ellipse cx="167.69" cy="487.75" rx="5.75" ry="4.55" fill="#08c408" stroke="#08a808" stroke-width="0.5"/>
<path d="M165.89 488.19h4.8M168.29 486.25v3.9" stroke="#021" stroke-width="1.25"/>
<ellipse cx="188.26" cy="487.75" rx="5.75" ry="4.55" fill="#08c408" stroke="#08a808" stroke-width="0.5"/>
<path d="M186.46 488.19h4.8M188.86 486.25v3.9" stroke="#021" stroke-width="1.25"/>
<ellipse cx="208.83" cy="487.75" rx="5.75" ry="4.55" fill="#08c408" stroke="#08a808" stroke-width="0.5"/>
<path d="M207.03 488.19h4.8M209.43 486.25v3.9" stroke="#021" stroke-width="1.25"/>
<ellipse cx="229.41" cy="487.75" rx="5.75" ry="4.55" fill="#e6e500" stroke="#c8c600" stroke-width="0.5"/>
<path d="M227.81 486.35Q228.10 485.25 229.50 485.25Q231.21 485.35 230.91 486.64Q230.60 487.44 229.50 488.14L229.21 489.05M229.10 489.75v1.1" fill="none" stroke="#111" stroke-width="1.4"/>
<ellipse cx="105.98" cy="503.95" rx="5.75" ry="4.55" fill="#e6e500" stroke="#c8c600" stroke-width="0.5"/>
<path d="M104.39 502.56Q104.69 501.45 106.08 501.45Q107.78 501.56 107.48 502.85Q107.19 503.65 106.08 504.35L105.78 505.25M105.69 505.95v1.1" fill="none" stroke="#111" stroke-width="1.4"/>
<ellipse cx="126.55" cy="503.95" rx="5.75" ry="4.55" fill="#e6e500" stroke="#c8c600" stroke-width="0.5"/>
<path d="M124.95 502.56Q125.25 501.45 126.65 501.45Q128.35 501.56 128.06 502.85Q127.75 503.65 126.65 504.35L126.35 505.25M126.25 505.95v1.1" fill="none" stroke="#111" stroke-width="1.4"/>
<ellipse cx="147.12" cy="503.95" rx="5.75" ry="4.55" fill="#08c408" stroke="#08a808" stroke-width="0.5"/>
<path d="M145.32 504.40h4.8M147.72 502.45v3.9" stroke="#021" stroke-width="1.25"/>
<ellipse cx="167.69" cy="503.95" rx="5.75" ry="4.55" fill="#08c408" stroke="#08a808" stroke-width="0.5"/>
<path d="M165.89 504.40h4.8M168.29 502.45v3.9" stroke="#021" stroke-width="1.25"/>
<ellipse cx="188.26" cy="503.95" rx="5.75" ry="4.55" fill="#08c408" stroke="#08a808" stroke-width="0.5"/>
<path d="M186.46 504.40h4.8M188.86 502.45v3.9" stroke="#021" stroke-width="1.25"/>
<ellipse cx="208.83" cy="503.95" rx="5.75" ry="4.55" fill="#08c408" stroke="#08a808" stroke-width="0.5"/>
<path d="M207.03 504.40h4.8M209.43 502.45v3.9" stroke="#021" stroke-width="1.25"/>
<ellipse cx="229.41" cy="503.95" rx="5.75" ry="4.55" fill="#e6e500" stroke="#c8c600" stroke-width="0.5"/>
<path d="M227.81 502.56Q228.10 501.45 229.50 501.45Q231.21 501.56 230.91 502.85Q230.60 503.65 229.50 504.35L229.21 505.25M229.10 505.95v1.1" fill="none" stroke="#111" stroke-width="1.4"/>
<ellipse cx="105.98" cy="520.17" rx="5.75" ry="4.55" fill="#e6e500" stroke="#c8c600" stroke-width="0.5"/>
<path d="M104.39 518.77Q104.69 517.67 106.08 517.67Q107.78 517.77 107.48 519.07Q107.19 519.87 106.08 520.57L105.78 521.47M105.69 522.17v1.1" fill="none" stroke="#111" stroke-width="1.4"/>
<ellipse cx="126.55" cy="520.17" rx="5.75" ry="4.55" fill="#08c408" stroke="#08a808" stroke-width="0.5"/>
<path d="M124.75 520.62h4.8M127.15 518.67v3.9" stroke="#021" stroke-width="1.25"/>
<ellipse cx="147.12" cy="520.17" rx="5.75" ry="4.55" fill="#08c408" stroke="#08a808" stroke-width="0.5"/>
<path d="M145.32 520.62h4.8M147.72 518.67v3.9" stroke="#021" stroke-width="1.25"/>
<ellipse cx="167.69" cy="520.17" rx="5.75" ry="4.55" fill="#08c408" stroke="#08a808" stroke-width="0.5"/>
<path d="M165.89 520.62h4.8M168.29 518.67v3.9" stroke="#021" stroke-width="1.25"/>
<ellipse cx="188.26" cy="520.17" rx="5.75" ry="4.55" fill="#08c408" stroke="#08a808" stroke-width="0.5"/>
<path d="M186.46 520.62h4.8M188.86 518.67v3.9" stroke="#021" stroke-width="1.25"/>
<ellipse cx="208.83" cy="520.17" rx="5.75" ry="4.55" fill="#08c408" stroke="#08a808" stroke-width="0.5"/>
<path d="M207.03 520.62h4.8M209.43 518.67v3.9" stroke="#021" stroke-width="1.25"/>
<ellipse cx="229.41" cy="520.17" rx="5.75" ry="4.55" fill="#e6e500" stroke="#c8c600" stroke-width="0.5"/>
<path d="M227.81 518.77Q228.10 517.67 229.50 517.67Q231.21 517.77 230.91 519.07Q230.60 519.87 229.50 520.57L229.21 521.47M229.10 522.17v1.1" fill="none" stroke="#111" stroke-width="1.4"/>
<ellipse cx="105.98" cy="536.38" rx="5.75" ry="4.55" fill="#e6e500" stroke="#c8c600" stroke-width="0.5"/>
<path d="M104.39 534.98Q104.69 533.88 106.08 533.88Q107.78 533.98 107.48 535.27Q107.19 536.08 106.08 536.77L105.78 537.67M105.69 538.38v1.1" fill="none" stroke="#111" stroke-width="1.4"/>
<ellipse cx="126.55" cy="536.38" rx="5.75" ry="4.55" fill="#e6e500" stroke="#c8c600" stroke-width="0.5"/>
<path d="M124.95 534.98Q125.25 533.88 126.65 533.88Q128.35 533.98 128.06 535.27Q127.75 536.08 126.65 536.77L126.35 537.67M126.25 538.38v1.1" fill="none" stroke="#111" stroke-width="1.4"/>
<ellipse cx="147.12" cy="536.38" rx="5.75" ry="4.55" fill="#e6e500" stroke="#c8c600" stroke-width="0.5"/>
<path d="M145.52 534.98Q145.82 533.88 147.22 533.88Q148.92 533.98 148.62 535.27Q148.32 536.08 147.22 536.77L146.92 537.67M146.82 538.38v1.1" fill="none" stroke="#111" stroke-width="1.4"/>
<ellipse cx="167.69" cy="536.38" rx="5.75" ry="4.55" fill="#08c408" stroke="#08a808" stroke-width="0.5"/>
<path d="M165.89 536.83h4.8M168.29 534.88v3.9" stroke="#021" stroke-width="1.25"/>
<ellipse cx="188.26" cy="536.38" rx="5.75" ry="4.55" fill="#cc0000" stroke="#b00000" stroke-width="0.5"/>
<path d="M186.16 536.17h4" stroke="#400" stroke-width="1.3"/>
<ellipse cx="208.83" cy="536.38" rx="5.75" ry="4.55" fill="#08c408" stroke="#08a808" stroke-width="0.5"/>
<path d="M207.03 536.83h4.8M209.43 534.88v3.9" stroke="#021" stroke-width="1.25"/>
<ellipse cx="229.41" cy="536.38" rx="5.75" ry="4.55" fill="#e6e500" stroke="#c8c600" stroke-width="0.5"/>
<path d="M227.81 534.98Q228.10 533.88 229.50 533.88Q231.21 533.98 230.91 535.27Q230.60 536.08 229.50 536.77L229.21 537.67M229.10 538.38v1.1" fill="none" stroke="#111" stroke-width="1.4"/>
<ellipse cx="105.98" cy="552.59" rx="5.75" ry="4.55" fill="#e6e500" stroke="#c8c600" stroke-width="0.5"/>
<path d="M104.39 551.19Q104.69 550.09 106.08 550.09Q107.78 550.19 107.48 551.49Q107.19 552.29 106.08 552.99L105.78 553.88M105.69 554.59v1.1" fill="none" stroke="#111" stroke-width="1.4"/>
<ellipse cx="126.55" cy="552.59" rx="5.75" ry="4.55" fill="#e6e500" stroke="#c8c600" stroke-width="0.5"/>
<path d="M124.95 551.19Q125.25 550.09 126.65 550.09Q128.35 550.19 128.06 551.49Q127.75 552.29 126.65 552.99L126.35 553.88M126.25 554.59v1.1" fill="none" stroke="#111" stroke-width="1.4"/>
<ellipse cx="147.12" cy="552.59" rx="5.75" ry="4.55" fill="#08c408" stroke="#08a808" stroke-width="0.5"/>
<path d="M145.32 553.04h4.8M147.72 551.09v3.9" stroke="#021" stroke-width="1.25"/>
<ellipse cx="167.69" cy="552.59" rx="5.75" ry="4.55" fill="#08c408" stroke="#08a808" stroke-width="0.5"/>
<path d="M165.89 553.04h4.8M168.29 551.09v3.9" stroke="#021" stroke-width="1.25"/>
<ellipse cx="188.26" cy="552.59" rx="5.75" ry="4.55" fill="#08c408" stroke="#08a808" stroke-width="0.5"/>
<path d="M186.46 553.04h4.8M188.86 551.09v3.9" stroke="#021" stroke-width="1.25"/>
<ellipse cx="208.83" cy="552.59" rx="5.75" ry="4.55" fill="#08c408" stroke="#08a808" stroke-width="0.5"/>
<path d="M207.03 553.04h4.8M209.43 551.09v3.9" stroke="#021" stroke-width="1.25"/>
<ellipse cx="229.41" cy="552.59" rx="5.75" ry="4.55" fill="#e6e500" stroke="#c8c600" stroke-width="0.5"/>
<path d="M227.81 551.19Q228.10 550.09 229.50 550.09Q231.21 550.19 230.91 551.49Q230.60 552.29 229.50 552.99L229.21 553.88M229.10 554.59v1.1" fill="none" stroke="#111" stroke-width="1.4"/>
<ellipse cx="105.98" cy="568.80" rx="5.75" ry="4.55" fill="#08c408" stroke="#08a808" stroke-width="0.5"/>
<path d="M104.19 569.25h4.8M106.58 567.30v3.9" stroke="#021" stroke-width="1.25"/>
<ellipse cx="126.55" cy="568.80" rx="5.75" ry="4.55" fill="#e6e500" stroke="#c8c600" stroke-width="0.5"/>
<path d="M124.95 567.40Q125.25 566.30 126.65 566.30Q128.35 566.40 128.06 567.70Q127.75 568.50 126.65 569.20L126.35 570.10M126.25 570.80v1.1" fill="none" stroke="#111" stroke-width="1.4"/>
<ellipse cx="147.12" cy="568.80" rx="5.75" ry="4.55" fill="#08c408" stroke="#08a808" stroke-width="0.5"/>
<path d="M145.32 569.25h4.8M147.72 567.30v3.9" stroke="#021" stroke-width="1.25"/>
<ellipse cx="167.69" cy="568.80" rx="5.75" ry="4.55" fill="#08c408" stroke="#08a808" stroke-width="0.5"/>
<path d="M165.89 569.25h4.8M168.29 567.30v3.9" stroke="#021" stroke-width="1.25"/>
<ellipse cx="188.26" cy="568.80" rx="5.75" ry="4.55" fill="#08c408" stroke="#08a808" stroke-width="0.5"/>
<path d="M186.46 569.25h4.8M188.86 567.30v3.9" stroke="#021" stroke-width="1.25"/>
<ellipse cx="208.83" cy="568.80" rx="5.75" ry="4.55" fill="#08c408" stroke="#08a808" stroke-width="0.5"/>
<path d="M207.03 569.25h4.8M209.43 567.30v3.9" stroke="#021" stroke-width="1.25"/>
<ellipse cx="229.41" cy="568.80" rx="5.75" ry="4.55" fill="#e6e500" stroke="#c8c600" stroke-width="0.5"/>
<path d="M227.81 567.40Q228.10 566.30 229.50 566.30Q231.21 566.40 230.91 567.70Q230.60 568.50 229.50 569.20L229.21 570.10M229.10 570.80v1.1" fill="none" stroke="#111" stroke-width="1.4"/>
<ellipse cx="105.98" cy="585.01" rx="5.75" ry="4.55" fill="#08c408" stroke="#08a808" stroke-width="0.5"/>
<path d="M104.19 585.46h4.8M106.58 583.51v3.9" stroke="#021" stroke-width="1.25"/>
<ellipse cx="126.55" cy="585.01" rx="5.75" ry="4.55" fill="#e6e500" stroke="#c8c600" stroke-width="0.5"/>
<path d="M124.95 583.61Q125.25 582.51 126.65 582.51Q128.35 582.61 128.06 583.91Q127.75 584.71 126.65 585.41L126.35 586.31M126.25 587.01v1.1" fill="none" stroke="#111" stroke-width="1.4"/>
<ellipse cx="147.12" cy="585.01" rx="5.75" ry="4.55" fill="#08c408" stroke="#08a808" stroke-width="0.5"/>
<path d="M145.32 585.46h4.8M147.72 583.51v3.9" stroke="#021" stroke-width="1.25"/>
<ellipse cx="167.69" cy="585.01" rx="5.75" ry="4.55" fill="#08c408" stroke="#08a808" stroke-width="0.5"/>
<path d="M165.89 585.46h4.8M168.29 583.51v3.9" stroke="#021" stroke-width="1.25"/>
<ellipse cx="188.26" cy="585.01" rx="5.75" ry="4.55" fill="#08c408" stroke="#08a808" stroke-width="0.5"/>
<path d="M186.46 585.46h4.8M188.86 583.51v3.9" stroke="#021" stroke-width="1.25"/>
<ellipse cx="208.83" cy="585.01" rx="5.75" ry="4.55" fill="#08c408" stroke="#08a808" stroke-width="0.5"/>
<path d="M207.03 585.46h4.8M209.43 583.51v3.9" stroke="#021" stroke-width="1.25"/>
<ellipse cx="229.41" cy="585.01" rx="5.75" ry="4.55" fill="#e6e500" stroke="#c8c600" stroke-width="0.5"/>
<path d="M227.81 583.61Q228.10 582.51 229.50 582.51Q231.21 582.61 230.91 583.91Q230.60 584.71 229.50 585.41L229.21 586.31M229.10 587.01v1.1" fill="none" stroke="#111" stroke-width="1.4"/>
<ellipse cx="105.98" cy="601.22" rx="5.75" ry="4.55" fill="#08c408" stroke="#08a808" stroke-width="0.5"/>
<path d="M104.19 601.67h4.8M106.58 599.72v3.9" stroke="#021" stroke-width="1.25"/>
<ellipse cx="126.55" cy="601.22" rx="5.75" ry="4.55" fill="#08c408" stroke="#08a808" stroke-width="0.5"/>
<path d="M124.75 601.67h4.8M127.15 599.72v3.9" stroke="#021" stroke-width="1.25"/>
<ellipse cx="147.12" cy="601.22" rx="5.75" ry="4.55" fill="#08c408" stroke="#08a808" stroke-width="0.5"/>
<path d="M145.32 601.67h4.8M147.72 599.72v3.9" stroke="#021" stroke-width="1.25"/>
<ellipse cx="167.69" cy="601.22" rx="5.75" ry="4.55" fill="#08c408" stroke="#08a808" stroke-width="0.5"/>
<path d="M165.89 601.67h4.8M168.29 599.72v3.9" stroke="#021" stroke-width="1.25"/>
<ellipse cx="188.26" cy="601.22" rx="5.75" ry="4.55" fill="#cc0000" stroke="#b00000" stroke-width="0.5"/>
<path d="M186.16 601.02h4" stroke="#400" stroke-width="1.3"/>
<ellipse cx="208.83" cy="601.22" rx="5.75" ry="4.55" fill="#08c408" stroke="#08a808" stroke-width="0.5"/>
<path d="M207.03 601.67h4.8M209.43 599.72v3.9" stroke="#021" stroke-width="1.25"/>
<ellipse cx="229.41" cy="601.22" rx="5.75" ry="4.55" fill="#e6e500" stroke="#c8c600" stroke-width="0.5"/>
<path d="M227.81 599.82Q228.10 598.72 229.50 598.72Q231.21 598.82 230.91 600.12Q230.60 600.92 229.50 601.62L229.21 602.52M229.10 603.22v1.1" fill="none" stroke="#111" stroke-width="1.4"/>
<ellipse cx="105.98" cy="617.43" rx="5.75" ry="4.55" fill="#08c408" stroke="#08a808" stroke-width="0.5"/>
<path d="M104.19 617.88h4.8M106.58 615.93v3.9" stroke="#021" stroke-width="1.25"/>
<ellipse cx="126.55" cy="617.43" rx="5.75" ry="4.55" fill="#e6e500" stroke="#c8c600" stroke-width="0.5"/>
<path d="M124.95 616.03Q125.25 614.93 126.65 614.93Q128.35 615.03 128.06 616.33Q127.75 617.13 126.65 617.83L126.35 618.73M126.25 619.43v1.1" fill="none" stroke="#111" stroke-width="1.4"/>
<ellipse cx="147.12" cy="617.43" rx="5.75" ry="4.55" fill="#cc0000" stroke="#b00000" stroke-width="0.5"/>
<path d="M145.02 617.23h4" stroke="#400" stroke-width="1.3"/>
<ellipse cx="167.69" cy="617.43" rx="5.75" ry="4.55" fill="#08c408" stroke="#08a808" stroke-width="0.5"/>
<path d="M165.89 617.88h4.8M168.29 615.93v3.9" stroke="#021" stroke-width="1.25"/>
<ellipse cx="188.26" cy="617.43" rx="5.75" ry="4.55" fill="#08c408" stroke="#08a808" stroke-width="0.5"/>
<path d="M186.46 617.88h4.8M188.86 615.93v3.9" stroke="#021" stroke-width="1.25"/>
<ellipse cx="208.83" cy="617.43" rx="5.75" ry="4.55" fill="#08c408" stroke="#08a808" stroke-width="0.5"/>
<path d="M207.03 617.88h4.8M209.43 615.93v3.9" stroke="#021" stroke-width="1.25"/>
<ellipse cx="229.41" cy="617.43" rx="5.75" ry="4.55" fill="#e6e500" stroke="#c8c600" stroke-width="0.5"/>
<path d="M227.81 616.03Q228.10 614.93 229.50 614.93Q231.21 615.03 230.91 616.33Q230.60 617.13 229.50 617.83L229.21 618.73M229.10 619.43v1.1" fill="none" stroke="#111" stroke-width="1.4"/>
<ellipse cx="105.98" cy="633.64" rx="5.75" ry="4.55" fill="#08c408" stroke="#08a808" stroke-width="0.5"/>
<path d="M104.19 634.09h4.8M106.58 632.14v3.9" stroke="#021" stroke-width="1.25"/>
<ellipse cx="126.55" cy="633.64" rx="5.75" ry="4.55" fill="#08c408" stroke="#08a808" stroke-width="0.5"/>
<path d="M124.75 634.09h4.8M127.15 632.14v3.9" stroke="#021" stroke-width="1.25"/>
<ellipse cx="147.12" cy="633.64" rx="5.75" ry="4.55" fill="#08c408" stroke="#08a808" stroke-width="0.5"/>
<path d="M145.32 634.09h4.8M147.72 632.14v3.9" stroke="#021" stroke-width="1.25"/>
<ellipse cx="167.69" cy="633.64" rx="5.75" ry="4.55" fill="#08c408" stroke="#08a808" stroke-width="0.5"/>
<path d="M165.89 634.09h4.8M168.29 632.14v3.9" stroke="#021" stroke-width="1.25"/>
<ellipse cx="188.26" cy="633.64" rx="5.75" ry="4.55" fill="#08c408" stroke="#08a808" stroke-width="0.5"/>
<path d="M186.46 634.09h4.8M188.86 632.14v3.9" stroke="#021" stroke-width="1.25"/>
<ellipse cx="208.83" cy="633.64" rx="5.75" ry="4.55" fill="#08c408" stroke="#08a808" stroke-width="0.5"/>
<path d="M207.03 634.09h4.8M209.43 632.14v3.9" stroke="#021" stroke-width="1.25"/>
<ellipse cx="229.41" cy="633.64" rx="5.75" ry="4.55" fill="#e6e500" stroke="#c8c600" stroke-width="0.5"/>
<path d="M227.81 632.24Q228.10 631.14 229.50 631.14Q231.21 631.24 230.91 632.54Q230.60 633.34 229.50 634.04L229.21 634.94M229.10 635.64v1.1" fill="none" stroke="#111" stroke-width="1.4"/>
<ellipse cx="105.98" cy="649.85" rx="5.75" ry="4.55" fill="#08c408" stroke="#08a808" stroke-width="0.5"/>
<path d="M104.19 650.30h4.8M106.58 648.35v3.9" stroke="#021" stroke-width="1.25"/>
<ellipse cx="126.55" cy="649.85" rx="5.75" ry="4.55" fill="#08c408" stroke="#08a808" stroke-width="0.5"/>
<path d="M124.75 650.30h4.8M127.15 648.35v3.9" stroke="#021" stroke-width="1.25"/>
<ellipse cx="147.12" cy="649.85" rx="5.75" ry="4.55" fill="#e6e500" stroke="#c8c600" stroke-width="0.5"/>
<path d="M145.52 648.45Q145.82 647.35 147.22 647.35Q148.92 647.45 148.62 648.75Q148.32 649.55 147.22 650.25L146.92 651.14M146.82 651.85v1.1" fill="none" stroke="#111" stroke-width="1.4"/>
<ellipse cx="167.69" cy="649.85" rx="5.75" ry="4.55" fill="#08c408" stroke="#08a808" stroke-width="0.5"/>
<path d="M165.89 650.30h4.8M168.29 648.35v3.9" stroke="#021" stroke-width="1.25"/>
<ellipse cx="188.26" cy="649.85" rx="5.75" ry="4.55" fill="#08c408" stroke="#08a808" stroke-width="0.5"/>
<path d="M186.46 650.30h4.8M188.86 648.35v3.9" stroke="#021" stroke-width="1.25"/>
<ellipse cx="208.83" cy="649.85" rx="5.75" ry="4.55" fill="#08c408" stroke="#08a808" stroke-width="0.5"/>
<path d="M207.03 650.30h4.8M209.43 648.35v3.9" stroke="#021" stroke-width="1.25"/>
<ellipse cx="229.41" cy="649.85" rx="5.75" ry="4.55" fill="#e6e500" stroke="#c8c600" stroke-width="0.5"/>
<path d="M227.81 648.45Q228.10 647.35 229.50 647.35Q231.21 647.45 230.91 648.75Q230.60 649.55 229.50 650.25L229.21 651.14M229.10 651.85v1.1" fill="none" stroke="#111" stroke-width="1.4"/>
<ellipse cx="105.98" cy="666.06" rx="5.75" ry="4.55" fill="#e6e500" stroke="#c8c600" stroke-width="0.5"/>
<path d="M104.39 664.66Q104.69 663.56 106.08 663.56Q107.78 663.66 107.48 664.96Q107.19 665.76 106.08 666.46L105.78 667.36M105.69 668.06v1.1" fill="none" stroke="#111" stroke-width="1.4"/>
<ellipse cx="126.55" cy="666.06" rx="5.75" ry="4.55" fill="#e6e500" stroke="#c8c600" stroke-width="0.5"/>
<path d="M124.95 664.66Q125.25 663.56 126.65 663.56Q128.35 663.66 128.06 664.96Q127.75 665.76 126.65 666.46L126.35 667.36M126.25 668.06v1.1" fill="none" stroke="#111" stroke-width="1.4"/>
<ellipse cx="147.12" cy="666.06" rx="5.75" ry="4.55" fill="#e6e500" stroke="#c8c600" stroke-width="0.5"/>
<path d="M145.52 664.66Q145.82 663.56 147.22 663.56Q148.92 663.66 148.62 664.96Q148.32 665.76 147.22 666.46L146.92 667.36M146.82 668.06v1.1" fill="none" stroke="#111" stroke-width="1.4"/>
<ellipse cx="167.69" cy="666.06" rx="5.75" ry="4.55" fill="#e6e500" stroke="#c8c600" stroke-width="0.5"/>
<path d="M166.09 664.66Q166.39 663.56 167.79 663.56Q169.50 663.66 169.19 664.96Q168.89 665.76 167.79 666.46L167.50 667.36M167.39 668.06v1.1" fill="none" stroke="#111" stroke-width="1.4"/>
<ellipse cx="188.26" cy="666.06" rx="5.75" ry="4.55" fill="#cc0000" stroke="#b00000" stroke-width="0.5"/>
<path d="M186.16 665.86h4" stroke="#400" stroke-width="1.3"/>
<ellipse cx="208.83" cy="666.06" rx="5.75" ry="4.55" fill="#08c408" stroke="#08a808" stroke-width="0.5"/>
<path d="M207.03 666.51h4.8M209.43 664.56v3.9" stroke="#021" stroke-width="1.25"/>
<ellipse cx="229.41" cy="666.06" rx="5.75" ry="4.55" fill="#e6e500" stroke="#c8c600" stroke-width="0.5"/>
<path d="M227.81 664.66Q228.10 663.56 229.50 663.56Q231.21 663.66 230.91 664.96Q230.60 665.76 229.50 666.46L229.21 667.36M229.10 668.06v1.1" fill="none" stroke="#111" stroke-width="1.4"/>
<ellipse cx="105.98" cy="682.27" rx="5.75" ry="4.55" fill="#08c408" stroke="#08a808" stroke-width="0.5"/>
<path d="M104.19 682.72h4.8M106.58 680.77v3.9" stroke="#021" stroke-width="1.25"/>
<ellipse cx="126.55" cy="682.27" rx="5.75" ry="4.55" fill="#08c408" stroke="#08a808" stroke-width="0.5"/>
<path d="M124.75 682.72h4.8M127.15 680.77v3.9" stroke="#021" stroke-width="1.25"/>
<ellipse cx="147.12" cy="682.27" rx="5.75" ry="4.55" fill="#e6e500" stroke="#c8c600" stroke-width="0.5"/>
<path d="M145.52 680.87Q145.82 679.77 147.22 679.77Q148.92 679.87 148.62 681.17Q148.32 681.97 147.22 682.67L146.92 683.57M146.82 684.27v1.1" fill="none" stroke="#111" stroke-width="1.4"/>
<ellipse cx="167.69" cy="682.27" rx="5.75" ry="4.55" fill="#08c408" stroke="#08a808" stroke-width="0.5"/>
<path d="M165.89 682.72h4.8M168.29 680.77v3.9" stroke="#021" stroke-width="1.25"/>
<ellipse cx="188.26" cy="682.27" rx="5.75" ry="4.55" fill="#cc0000" stroke="#b00000" stroke-width="0.5"/>
<path d="M186.16 682.07h4" stroke="#400" stroke-width="1.3"/>
<ellipse cx="208.83" cy="682.27" rx="5.75" ry="4.55" fill="#08c408" stroke="#08a808" stroke-width="0.5"/>
<path d="M207.03 682.72h4.8M209.43 680.77v3.9" stroke="#021" stroke-width="1.25"/>
<ellipse cx="229.41" cy="682.27" rx="5.75" ry="4.55" fill="#e6e500" stroke="#c8c600" stroke-width="0.5"/>
<path d="M227.81 680.87Q228.10 679.77 229.50 679.77Q231.21 679.87 230.91 681.17Q230.60 681.97 229.50 682.67L229.21 683.57M229.10 684.27v1.1" fill="none" stroke="#111" stroke-width="1.4"/>
<ellipse cx="105.98" cy="698.48" rx="5.75" ry="4.55" fill="#08c408" stroke="#08a808" stroke-width="0.5"/>
<path d="M104.19 698.93h4.8M106.58 696.98v3.9" stroke="#021" stroke-width="1.25"/>
<ellipse cx="126.55" cy="698.48" rx="5.75" ry="4.55" fill="#e6e500" stroke="#c8c600" stroke-width="0.5"/>
<path d="M124.95 697.08Q125.25 695.98 126.65 695.98Q128.35 696.08 128.06 697.38Q127.75 698.18 126.65 698.88L126.35 699.78M126.25 700.48v1.1" fill="none" stroke="#111" stroke-width="1.4"/>
<ellipse cx="147.12" cy="698.48" rx="5.75" ry="4.55" fill="#08c408" stroke="#08a808" stroke-width="0.5"/>
<path d="M145.32 698.93h4.8M147.72 696.98v3.9" stroke="#021" stroke-width="1.25"/>
<ellipse cx="167.69" cy="698.48" rx="5.75" ry="4.55" fill="#08c408" stroke="#08a808" stroke-width="0.5"/>
<path d="M165.89 698.93h4.8M168.29 696.98v3.9" stroke="#021" stroke-width="1.25"/>
<ellipse cx="188.26" cy="698.48" rx="5.75" ry="4.55" fill="#08c408" stroke="#08a808" stroke-width="0.5"/>
<path d="M186.46 698.93h4.8M188.86 696.98v3.9" stroke="#021" stroke-width="1.25"/>
<ellipse cx="208.83" cy="698.48" rx="5.75" ry="4.55" fill="#08c408" stroke="#08a808" stroke-width="0.5"/>
<path d="M207.03 698.93h4.8M209.43 696.98v3.9" stroke="#021" stroke-width="1.25"/>
<ellipse cx="229.41" cy="698.48" rx="5.75" ry="4.55" fill="#e6e500" stroke="#c8c600" stroke-width="0.5"/>
<path d="M227.81 697.08Q228.10 695.98 229.50 695.98Q231.21 696.08 230.91 697.38Q230.60 698.18 229.50 698.88L229.21 699.78M229.10 700.48v1.1" fill="none" stroke="#111" stroke-width="1.4"/>
<ellipse cx="105.98" cy="714.69" rx="5.75" ry="4.55" fill="#08c408" stroke="#08a808" stroke-width="0.5"/>
<path d="M104.19 715.14h4.8M106.58 713.19v3.9" stroke="#021" stroke-width="1.25"/>
<ellipse cx="126.55" cy="714.69" rx="5.75" ry="4.55" fill="#e6e500" stroke="#c8c600" stroke-width="0.5"/>
<path d="M124.95 713.29Q125.25 712.19 126.65 712.19Q128.35 712.29 128.06 713.59Q127.75 714.39 126.65 715.09L126.35 715.99M126.25 716.69v1.1" fill="none" stroke="#111" stroke-width="1.4"/>
<ellipse cx="147.12" cy="714.69" rx="5.75" ry="4.55" fill="#08c408" stroke="#08a808" stroke-width="0.5"/>
<path d="M145.32 715.14h4.8M147.72 713.19v3.9" stroke="#021" stroke-width="1.25"/>
<ellipse cx="167.69" cy="714.69" rx="5.75" ry="4.55" fill="#08c408" stroke="#08a808" stroke-width="0.5"/>
<path d="M165.89 715.14h4.8M168.29 713.19v3.9" stroke="#021" stroke-width="1.25"/>
<ellipse cx="188.26" cy="714.69" rx="5.75" ry="4.55" fill="#08c408" stroke="#08a808" stroke-width="0.5"/>
<path d="M186.46 715.14h4.8M188.86 713.19v3.9" stroke="#021" stroke-width="1.25"/>
<ellipse cx="208.83" cy="714.69" rx="5.75" ry="4.55" fill="#08c408" stroke="#08a808" stroke-width="0.5"/>
<path d="M207.03 715.14h4.8M209.43 713.19v3.9" stroke="#021" stroke-width="1.25"/>
<ellipse cx="229.41" cy="714.69" rx="5.75" ry="4.55" fill="#e6e500" stroke="#c8c600" stroke-width="0.5"/>
<path d="M227.81 713.29Q228.10 712.19 229.50 712.19Q231.21 712.29 230.91 713.59Q230.60 714.39 229.50 715.09L229.21 715.99M229.10 716.69v1.1" fill="none" stroke="#111" stroke-width="1.4"/>
<text transform="translate(107.98,249.8) rotate(-90)" textLength="143.4" lengthAdjust="spacingAndGlyphs" font-family="Liberation Sans" font-size="7.9" fill="#111" stroke="#111" stroke-width="0.15">Random sequence generation (selection bias)</text>
<text transform="translate(128.55,249.8) rotate(-90)" textLength="123.4" lengthAdjust="spacingAndGlyphs" font-family="Liberation Sans" font-size="7.9" fill="#111" stroke="#111" stroke-width="0.15">Allocation concealment (selection bias)</text>
<text transform="translate(149.12,249.8) rotate(-90)" textLength="182.1" lengthAdjust="spacingAndGlyphs" font-family="Liberation Sans" font-size="7.9" fill="#111" stroke="#111" stroke-width="0.15">Blinding of participants and personnel (performance bias)</text>
<text transform="translate(169.69,249.8) rotate(-90)" textLength="152.8" lengthAdjust="spacingAndGlyphs" font-family="Liberation Sans" font-size="7.9" fill="#111" stroke="#111" stroke-width="0.15">Blinding of outcome assessment (detection bias)</text>
<text transform="translate(190.26,249.8) rotate(-90)" textLength="126.1" lengthAdjust="spacingAndGlyphs" font-family="Liberation Sans" font-size="7.9" fill="#111" stroke="#111" stroke-width="0.15">Incomplete outcome data (attrition bias)</text>
<text transform="translate(210.83,249.8) rotate(-90)" textLength="109.4" lengthAdjust="spacingAndGlyphs" font-family="Liberation Sans" font-size="7.9" fill="#111" stroke="#111" stroke-width="0.15">Selective reporting (reporting bias)</text>
<text transform="translate(231.41,249.8) rotate(-90)" textLength="32.6" lengthAdjust="spacingAndGlyphs" font-family="Liberation Sans" font-size="7.9" fill="#111" stroke="#111" stroke-width="0.15">Other bias</text>
<line x1="276" y1="50.3" x2="600" y2="50.3" stroke="#8c8c8c" stroke-width="1.5"/>
<line x1="276.7" y1="50" x2="276.7" y2="183" stroke="#666" stroke-width="1.1"/>
<line x1="599.3" y1="49.5" x2="599.3" y2="183" stroke="#555" stroke-width="1.4"/>
<line x1="276" y1="182.4" x2="600" y2="182.4" stroke="#555" stroke-width="1.2"/>
<rect x="460.00" y="55.00" width="69.67" height="10" fill="#056005"/>
<rect x="461.00" y="56.00" width="68.67" height="8" fill="#00c000"/>
<rect x="529.67" y="55.00" width="65.03" height="10" fill="#8a8600"/>
<rect x="529.67" y="56.00" width="64.03" height="8" fill="#e5e500"/>
<text x="318.50" y="63.40" textLength="135.8" lengthAdjust="spacing" font-family="Liberation Sans" font-size="6.4" fill="#2a2a2a">Random sequence generation (selection bias)</text>
<rect x="460.00" y="68.00" width="37.16" height="10" fill="#056005"/>
<rect x="461.00" y="69.00" width="36.16" height="8" fill="#00c000"/>
<rect x="497.16" y="68.00" width="97.54" height="10" fill="#8a8600"/>
<rect x="497.16" y="69.00" width="96.54" height="8" fill="#e5e500"/>
<text x="339.50" y="76.40" textLength="114.8" lengthAdjust="spacing" font-family="Liberation Sans" font-size="6.4" fill="#2a2a2a">Allocation concealment (selection bias)</text>
<rect x="460.00" y="81.00" width="88.25" height="10" fill="#056005"/>
<rect x="461.00" y="82.00" width="87.25" height="8" fill="#00c000"/>
<rect x="548.25" y="81.00" width="41.80" height="10" fill="#8a8600"/>
<rect x="548.25" y="82.00" width="41.80" height="8" fill="#e5e500"/>
<rect x="590.06" y="81.00" width="4.64" height="10" fill="#650000"/>
<rect x="590.06" y="82.00" width="3.64" height="8" fill="#c60000"/>
<text x="281.40" y="89.40" textLength="172.9" lengthAdjust="spacing" font-family="Liberation Sans" font-size="6.4" fill="#2a2a2a">Blinding of participants and personnel (performance bias)</text>
<rect x="460.00" y="94.00" width="130.06" height="10" fill="#056005"/>
<rect x="461.00" y="95.00" width="129.06" height="8" fill="#00c000"/>
<rect x="590.06" y="94.00" width="4.64" height="10" fill="#8a8600"/>
<rect x="590.06" y="95.00" width="3.64" height="8" fill="#e5e500"/>
<text x="310.50" y="102.40" textLength="143.8" lengthAdjust="spacing" font-family="Liberation Sans" font-size="6.4" fill="#2a2a2a">Blinding of outcome assessment (detection bias)</text>
<rect x="460.00" y="107.00" width="83.61" height="10" fill="#056005"/>
<rect x="461.00" y="108.00" width="82.61" height="8" fill="#00c000"/>
<rect x="543.61" y="107.00" width="51.09" height="10" fill="#650000"/>
<rect x="543.61" y="108.00" width="50.09" height="8" fill="#c60000"/>
<text x="334.60" y="115.40" textLength="119.7" lengthAdjust="spacing" font-family="Liberation Sans" font-size="6.4" fill="#2a2a2a">Incomplete outcome data (attrition bias)</text>
<rect x="460.00" y="120.00" width="134.70" height="10" fill="#056005"/>
<rect x="461.00" y="121.00" width="132.70" height="8" fill="#00c000"/>
<text x="350.60" y="128.40" textLength="103.7" lengthAdjust="spacing" font-family="Liberation Sans" font-size="6.4" fill="#2a2a2a">Selective reporting (reporting bias)</text>
<rect x="460.00" y="133.00" width="134.70" height="10" fill="#8a8600"/>
<rect x="461.00" y="134.00" width="132.70" height="8" fill="#e5e500"/>
<text x="423.00" y="141.40" textLength="31.3" lengthAdjust="spacing" font-family="Liberation Sans" font-size="6.4" fill="#2a2a2a">Other bias</text>
<line x1="460.0" y1="150.4" x2="594.7" y2="150.4" stroke="#555" stroke-width="1"/>
<line x1="460.00" y1="148" x2="460.00" y2="151" stroke="#333" stroke-width="1"/>
<text x="460.00" y="157.6" text-anchor="start" font-family="Liberation Sans" font-size="6.75" fill="#222">0%</text>
<line x1="493.68" y1="148" x2="493.68" y2="151" stroke="#333" stroke-width="1"/>
<text x="493.68" y="157.6" text-anchor="middle" font-family="Liberation Sans" font-size="6.75" fill="#222">25%</text>
<line x1="527.35" y1="148" x2="527.35" y2="151" stroke="#333" stroke-width="1"/>
<text x="527.35" y="157.6" text-anchor="middle" font-family="Liberation Sans" font-size="6.75" fill="#222">50%</text>
<line x1="561.03" y1="148" x2="561.03" y2="151" stroke="#333" stroke-width="1"/>
<text x="561.03" y="157.6" text-anchor="middle" font-family="Liberation Sans" font-size="6.75" fill="#222">75%</text>
<line x1="594.70" y1="148" x2="594.70" y2="151" stroke="#333" stroke-width="1"/>
<text x="594.70" y="157.6" text-anchor="end" font-family="Liberation Sans" font-size="6.75" fill="#222">100%</text>
<rect x="282" y="162" width="313" height="15.5" fill="none" stroke="#666" stroke-width="1"/>
<rect x="287.5" y="165.5" width="8" height="8" fill="#08c408" stroke="#056005" stroke-width="0.9"/>
<text x="297" y="171.6" font-family="Liberation Sans" font-size="6.75" fill="#222">Low risk of bias</text>
<rect x="388.0" y="165.5" width="8" height="8" fill="#e6e500" stroke="#8a8600" stroke-width="0.9"/>
<text x="397.5" y="171.6" font-family="Liberation Sans" font-size="6.75" fill="#222">Unclear risk of bias</text>
<rect x="489.0" y="165.5" width="8" height="8" fill="#cc0000" stroke="#650000" stroke-width="0.9"/>
<text x="498.5" y="171.6" font-family="Liberation Sans" font-size="6.75" fill="#222">High risk of bias</text>
</svg>
<div class="lab" style="top:255.61px">Apter 2015</div>
<div class="lab" style="top:271.81px">Einstein 2014</div>
<div class="lab" style="top:288.03px">Giuliano 2011</div>
<div class="lab" style="top:304.24px">Harper 2006</div>
<div class="lab" style="top:320.45px">Herrero 2013</div>
<div class="lab" style="top:336.66px">Kang 2008</div>
<div class="lab" style="top:352.87px">Kim 2010</div>
<div class="lab" style="top:369.08px">Kim 2011</div>
<div class="lab" style="top:385.29px">Konno 2010</div>
<div class="lab" style="top:401.50px">Konno 2014</div>
<div class="lab" style="top:417.71px">Lazcano-Ponce 2009</div>
<div class="lab" style="top:433.92px">Lehtinen 2016</div>
<div class="lab" style="top:450.12px">Levin 2010</div>
<div class="lab" style="top:466.34px">Lim 2014</div>
<div class="lab" style="top:482.55px">Moreira Jr 2011</div>
<div class="lab" style="top:498.75px">Mugo 2015</div>
<div class="lab" style="top:514.97px">Mu&#241;oz 2009</div>
<div class="lab" style="top:531.17px">Naud 2014</div>
<div class="lab" style="top:547.38px">Olsson 2007</div>
<div class="lab" style="top:563.60px">Reisinger 2007</div>
<div class="lab" style="top:579.81px">Rivera Medina 2010</div>
<div class="lab" style="top:596.02px">Salif Sow 2013</div>
<div class="lab" style="top:612.23px">Schmeink 2011</div>
<div class="lab" style="top:628.44px">Toft 2014</div>
<div class="lab" style="top:644.64px">Vesikari 2015</div>
<div class="lab" style="top:660.86px">Villa 2006</div>
<div class="lab" style="top:677.07px">Wheeler 2008</div>
<div class="lab" style="top:693.28px">Wheeler 2016</div>
<div class="lab" style="top:709.49px">Zhu 2014</div>
</body></html>
